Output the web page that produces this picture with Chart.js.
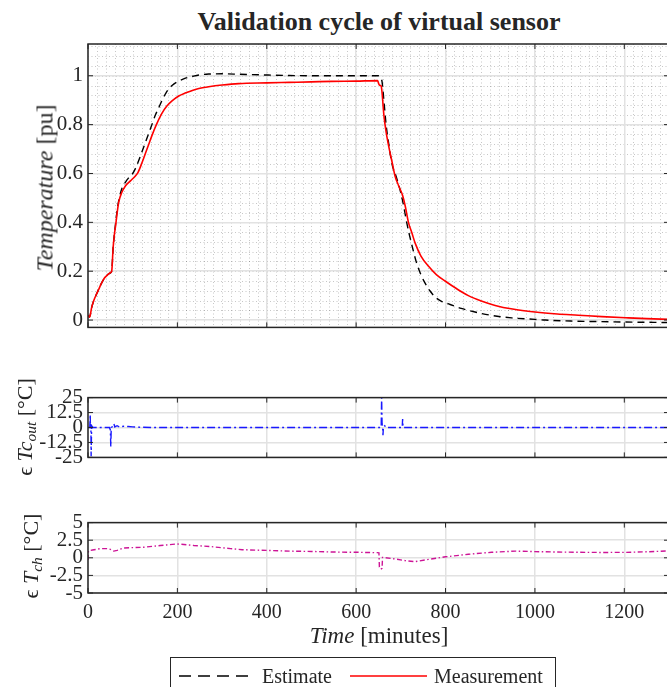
<!DOCTYPE html>
<html>
<head>
<meta charset="utf-8">
<script src="https://cdn.jsdelivr.net/npm/chart.js@4.4.0/dist/chart.umd.min.js"></script>
<style>
  html, body { margin: 0; padding: 0; background: #fff; }
  body { width: 667px; height: 687px; overflow: hidden; position: relative;
         font-family: 'Liberation Serif', 'Times New Roman', serif; color: #262626; }
  .panel { position: absolute; left: 0; }
  .txt { position: absolute; white-space: nowrap; transform: translate(-50%, -50%); }
  .ylab { position: absolute; white-space: nowrap; font-size: 22px; transform: translate(-50%, -50%) rotate(-90deg); }
  sub { font-size: 70%; vertical-align: -0.3em; }
  #legend { position: absolute; left: 170px; top: 657px; width: 384px; height: 40px;
            border: 1px solid #262626; background: #fff; font-size: 20px; }
  #legend span { position: absolute; top: 6px; line-height: 24px; }
  #legend svg { position: absolute; left: 0; top: 0; }
</style>
</head>
<body>
<div class="txt" style="left:379px; top:22px; font-size:26px; font-weight:bold;">Validation cycle of virtual sensor</div>

<div class="panel" style="top:0; width:672px; height:345px;"><canvas id="tempChart" width="672" height="345"></canvas></div>
<div class="panel" style="top:380px; width:672px; height:95px;"><canvas id="tcChart" width="672" height="95"></canvas></div>
<div class="panel" style="top:505px; width:672px; height:125px;"><canvas id="tchChart" width="672" height="125"></canvas></div>

<div class="ylab" style="left:45px; top:188px; font-size:24px;"><i>Temperature</i> [pu]</div>
<div class="ylab" style="left:26px; top:427px;">ϵ&nbsp;<i>Tc</i><sub><i>out</i></sub>&nbsp;[°C]</div>
<div class="ylab" style="left:32px; top:556px;">ϵ&nbsp;<i>T</i><sub><i>ch</i></sub>&nbsp;[°C]</div>
<div class="txt" style="left:379px; top:636px; font-size:23px;"><i>Time</i> [minutes]</div>

<div id="legend">
  <svg width="384" height="40">
    <line x1="8" y1="18" x2="82" y2="18" stroke="#000" stroke-width="1.4" stroke-dasharray="12 7"></line>
    <line x1="179" y1="18" x2="256" y2="18" stroke="#ff0000" stroke-width="1.6"></line>
  </svg>
  <span style="left:91px;">Estimate</span>
  <span style="left:263px;">Measurement</span>
</div>

<script>
// top panel: normalised temperature
const estTime = [0, 3, 5, 8, 13, 20, 30, 40, 47, 53, 54, 56, 59, 62, 66, 70, 76, 84, 90, 100,
  106, 115, 122, 129, 136, 143, 151, 159, 167, 174, 181, 188, 200, 218, 235, 248, 270, 300, 340, 400,
  450, 545, 600, 650, 654, 658, 662, 667, 673, 680, 690, 700, 706, 712, 719, 727, 735, 744, 753, 765,
  777, 790, 807, 835, 866, 900, 948, 1000, 1023, 1080, 1134, 1200, 1300];
const estVals = [0.02, 0.012, 0.02, 0.05, 0.08, 0.11, 0.15, 0.178, 0.19, 0.2, 0.22, 0.29, 0.35, 0.40, 0.46, 0.50, 0.54, 0.565, 0.58, 0.60,
  0.62, 0.66, 0.695, 0.73, 0.765, 0.80, 0.84, 0.872, 0.905, 0.928, 0.947, 0.96, 0.975, 0.99, 0.998, 1.003, 1.007, 1.008, 1.006, 1.003,
  1.001, 1.0, 1.0, 1.0, 0.995, 0.975, 0.90, 0.80, 0.72, 0.64, 0.585, 0.52, 0.47, 0.41, 0.35, 0.29, 0.235, 0.19, 0.155, 0.12,
  0.094, 0.078, 0.066, 0.048, 0.033, 0.02, 0.009, 0.003, 0.0, -0.004, -0.006, -0.008, -0.01];

const measTime = [0, 3, 5, 8, 13, 20, 25, 30, 36, 42, 47, 51, 53, 54, 56, 59, 62, 66, 69, 75,
  84, 95, 106, 112, 121, 130, 137, 143, 153, 165, 176, 188, 203, 219, 235, 248, 270, 300, 337, 400,
  450, 500, 545, 600, 648, 650, 652, 656, 658, 662, 667, 673, 680, 687, 695, 704, 710, 717, 725, 732,
  745, 762, 780, 799, 825, 851, 880, 911, 950, 1000, 1050, 1097, 1150, 1209, 1250, 1300];
const measVals = [0.02, 0.012, 0.02, 0.05, 0.08, 0.11, 0.13, 0.15, 0.17, 0.182, 0.19, 0.195, 0.2, 0.22, 0.29, 0.35, 0.39, 0.45, 0.485, 0.52,
  0.55, 0.57, 0.59, 0.605, 0.645, 0.69, 0.725, 0.755, 0.80, 0.845, 0.875, 0.897, 0.917, 0.93, 0.941, 0.948, 0.955, 0.962, 0.968, 0.971,
  0.973, 0.975, 0.977, 0.978, 0.98, 0.97, 0.962, 0.958, 0.93, 0.84, 0.77, 0.71, 0.65, 0.59, 0.55, 0.51, 0.465, 0.40, 0.355, 0.315,
  0.262, 0.22, 0.185, 0.16, 0.128, 0.10, 0.078, 0.06, 0.045, 0.033, 0.025, 0.02, 0.014, 0.009, 0.006, 0.003];

// middle panel: error on Tc_out
const tcTime = [0, 4, 5, 5.5, 6.5, 7, 8, 9, 11, 48, 50, 51, 52, 56, 58, 60, 65, 70, 80, 90,
  100, 120, 150, 650, 656, 657, 658, 659, 660, 661, 664, 667, 700, 703, 704, 705, 710, 1300];
const tcErr = [0, 0, 11, -2, 3, -24, -2, 1, 0, 0, -2, -16, 0, 1, 3, 0.5, 1.5, 0.5, 1, 0.8,
  0.5, 0.2, 0, 0, 0, 25, 3, 1, -6.5, 0.5, 1.5, 0, 0, 0, 7, 0, 0, 0];

// bottom panel: error on T_ch
const tchTime = [0, 1, 10, 28, 43, 50, 58, 65, 80, 125, 162, 200, 237, 274, 319, 345, 400, 450, 500, 550,
  605, 647, 651, 652, 655, 658, 659, 680, 710, 732, 762, 800, 851, 903, 956, 1000, 1050, 1100, 1150, 1200,
  1250, 1300];
const tchErr = [-0.3, 1.0, 1.1, 1.3, 1.3, 1.2, 0.95, 1.05, 1.4, 1.5, 1.75, 1.97, 1.75, 1.6, 1.3, 1.15, 1.05, 0.95, 0.9, 0.82,
  0.78, 0.73, 0.7, -1.3, -1.6, -1.5, 0.05, -0.1, -0.4, -0.55, -0.23, 0.14, 0.5, 0.78, 0.95, 0.88, 0.82, 0.78, 0.76, 0.77,
  0.85, 0.98];

const timeTicks = [0, 200, 400, 600, 800, 1000, 1200];
const tempTicks = [0, 0.2, 0.4, 0.6, 0.8, 1];
const tcTicks = [-25, -12.5, 0, 12.5, 25];
const tchTicks = [-5, -2.5, 0, 2.5, 5];

const pts = (xs, ys) => xs.map((x, i) => ({ x: x, y: ys[i] }));
const serif = "'Liberation Serif', 'Times New Roman', serif";
const ink = '#262626';

// box around the axes, ticks pointing inwards, optional dotted minor grid
const frame = {
  id: 'frame',
  beforeDraw(chart, args, opts) {
    if (!opts.minor) return;
    const { ctx, chartArea: a, scales } = chart;
    ctx.save();
    ctx.strokeStyle = 'rgba(0,0,0,0.22)';
    ctx.lineWidth = 1;
    ctx.setLineDash([1, 2.5]);
    ctx.beginPath();
    for (let t = 20; t < scales.x.max; t += 20) {
      const px = Math.round(scales.x.getPixelForValue(t)) + 0.5;
      ctx.moveTo(px, a.top); ctx.lineTo(px, a.bottom);
    }
    for (let v = 0.04; v < scales.y.max; v += 0.04) {
      const py = Math.round(scales.y.getPixelForValue(v)) + 0.5;
      ctx.moveTo(a.left, py); ctx.lineTo(a.right, py);
    }
    ctx.stroke();
    ctx.restore();
  },
  afterDraw(chart) {
    const { ctx, chartArea: a, scales } = chart;
    ctx.save();
    ctx.strokeStyle = ink;
    ctx.lineWidth = 1;
    ctx.beginPath();
    scales.x.ticks.forEach(t => {
      const px = scales.x.getPixelForValue(t.value);
      ctx.moveTo(px, a.bottom); ctx.lineTo(px, a.bottom - 5);
      ctx.moveTo(px, a.top); ctx.lineTo(px, a.top + 5);
    });
    scales.y.ticks.forEach(t => {
      const py = scales.y.getPixelForValue(t.value);
      ctx.moveTo(a.left, py); ctx.lineTo(a.left + 5, py);
      ctx.moveTo(a.right, py); ctx.lineTo(a.right - 5, py);
    });
    ctx.stroke();
    ctx.lineWidth = 1.5;
    ctx.strokeRect(a.left, a.top, a.right - a.left, a.bottom - a.top);
    ctx.restore();
  }
};

function panel(id, datasets, yMin, yMax, yTicks, showX, padding, minor) {
  return new Chart(document.getElementById(id), {
    type: 'line',
    data: { datasets: datasets },
    options: {
      responsive: false,
      animation: false,
      layout: { padding: padding },
      plugins: { legend: { display: false }, tooltip: { enabled: false }, frame: { minor: minor } },
      elements: { point: { radius: 0 } },
      scales: {
        x: {
          type: 'linear', min: 0, max: 1300,
          afterBuildTicks: s => { s.ticks = timeTicks.map(v => ({ value: v })); },
          afterFit: s => { s.height = showX ? 30 : 0; },
          grid: { color: '#e2e2e2', lineWidth: 1.5, drawTicks: false },
          border: { display: false },
          ticks: { display: showX, padding: 8, font: { family: serif, size: 20 }, color: ink,
                   maxRotation: 0, autoSkip: false, callback: v => String(v) }
        },
        y: {
          type: 'linear', min: yMin, max: yMax,
          afterBuildTicks: s => { s.ticks = yTicks.map(v => ({ value: v })); },
          afterFit: s => { s.width = 88; },
          grid: { color: '#e2e2e2', lineWidth: 1.5, drawTicks: false },
          border: { display: false },
          ticks: { padding: 5, font: { family: serif, size: 21 }, color: ink, autoSkip: false,
                   callback: v => String(v) }
        }
      }
    },
    plugins: [frame]
  });
}

panel('tempChart', [
  { label: 'Measurement', data: pts(measTime, measVals), borderColor: '#ff0000', borderWidth: 1.6,
    cubicInterpolationMode: 'monotone', order: 0 },
  { label: 'Estimate', data: pts(estTime, estVals), borderColor: '#000000', borderWidth: 1.4,
    borderDash: [7, 5], cubicInterpolationMode: 'monotone', order: 1 }
], -0.03, 1.13, tempTicks, false, { top: 44, bottom: 8, left: 0, right: 3 }, true);

panel('tcChart', [
  { label: 'Tc_out error', data: pts(tcTime, tcErr), borderColor: 'rgb(25,25,255)', borderWidth: 1.4,
    borderDash: [8, 3, 2, 3], tension: 0 }
], -25, 25, tcTicks, false, { top: 12, bottom: 10, left: 0, right: 3 }, false);

panel('tchChart', [
  { label: 'T_ch error', data: pts(tchTime, tchErr), borderColor: 'rgb(205,20,150)', borderWidth: 1.4,
    borderDash: [5, 2.5, 1.5, 2.5], tension: 0 }
], -5, 5, tchTicks, true, { top: 15, bottom: 7, left: 0, right: 3 }, false);
</script>
</body>
</html>
